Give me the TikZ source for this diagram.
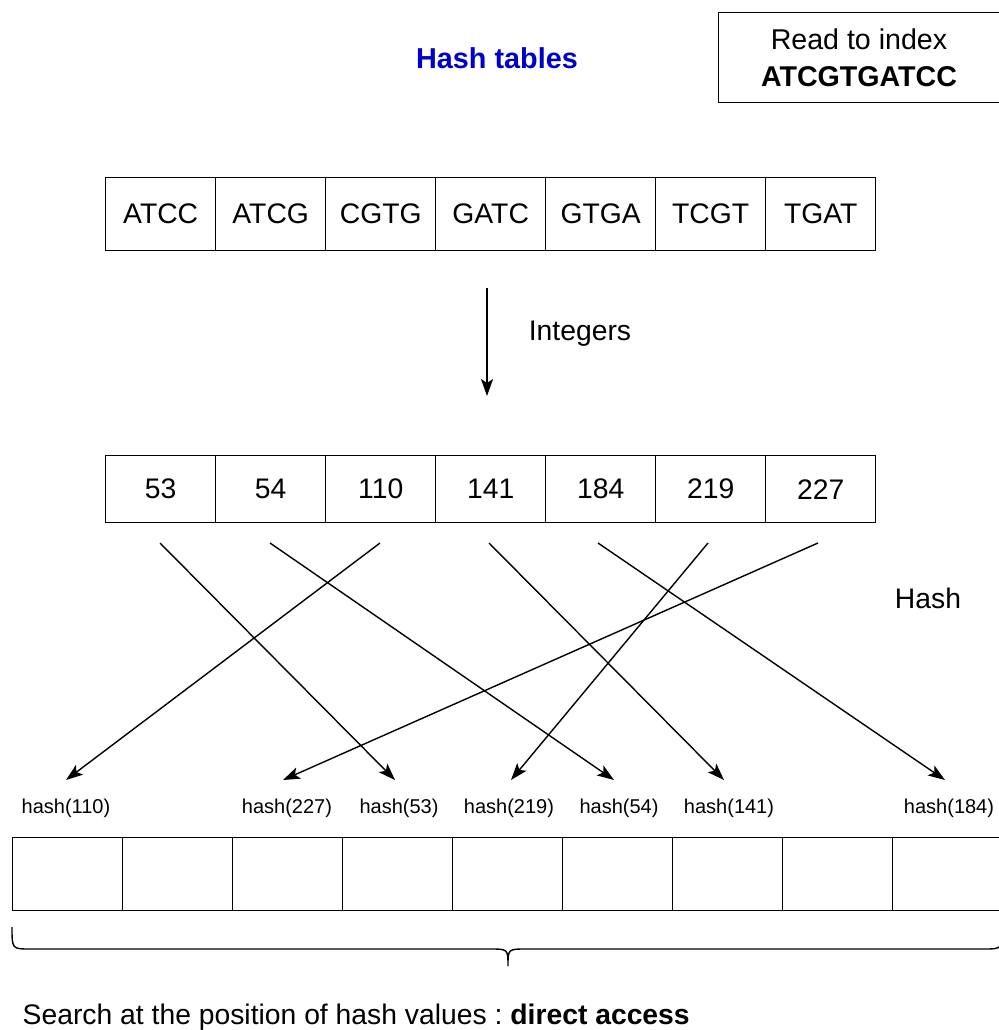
\documentclass[tikz,border=0pt]{standalone}
\usepackage{fontspec}
\setmainfont{Liberation Sans}
\usetikzlibrary{arrows.meta}
\definecolor{titleblue}{RGB}{0,0,204}
\begin{document}
\begin{tikzpicture}[x=1pt,y=-1pt,
  line width=1.4pt,
  cell/.style={draw, line width=1.4pt, minimum width=110pt, inner sep=0pt,
    anchor=north west, font=\fontsize{28.3}{32}\selectfont},
  kcell/.style={cell, minimum height=73pt},
  icell/.style={cell, minimum height=67pt},
  tcell/.style={cell, minimum height=73pt},
  hlabel/.style={inner sep=0pt, font=\fontsize{20}{23}\selectfont},
  txt/.style={inner sep=0pt, font=\fontsize{28.3}{32}\selectfont},
  hasharrow/.style={-{Stealth[length=17pt,width=12pt,inset=4pt]}, line width=1.4pt}]
\useasboundingbox (0,0) rectangle (998,1030);

% title and input read
\node[txt, font=\fontsize{28.8}{32}\bfseries, text=titleblue] (title) at (497,58) {Hash tables};
\node[draw, line width=1.4pt, anchor=north west, minimum width=290pt, minimum height=90pt, inner sep=0pt] (readbox) at (718,12) {};
\node[txt, align=center, font=\fontsize{28.6}{37}\selectfont] (readtxt) at (859,58) {Read to index\\\textbf{ATCGTGATCC}};

% k-mers
\foreach \k [count=\i from 0] in {ATCC,ATCG,CGTG,GATC,GTGA,TCGT,TGAT}
  \node[kcell] (k\i) at (105+110*\i,177) {\k};

% integers
\foreach \v [count=\i from 0] in {53,54,110,141,184,219,227}
  \node[icell] (n\v) at (105+110*\i,455) {\v};

% k-mer -> integer conversion
\coordinate (convtop) at (487,288);
\coordinate (convbot) at (487,396);
\draw[-{Stealth[length=17pt,width=12pt,inset=4pt]}] (convtop) -- (convbot);
\node[txt] (intlabel) at (580,334) {Integers};
\node[txt] (hashlabel) at (928,598) {Hash};

% hash table slots
\foreach \i in {0,...,8}
  \node[tcell] (t\i) at (12+110*\i,837) {};

% hash value labels
\node[hlabel] (h110) at (66,808) {hash(110)};
\node[hlabel] (h227) at (287,808) {hash(227)};
\node[hlabel] (h53)  at (399,808) {hash(53)};
\node[hlabel] (h219) at (509,808) {hash(219)};
\node[hlabel] (h54)  at (619,808) {hash(54)};
\node[hlabel] (h141) at (729,808) {hash(141)};
\node[hlabel] (h184) at (949,808) {hash(184)};

% arrow start points below the integers, end points above the labels
\foreach \v/\x in {53/160,54/270,110/380,141/489,184/598,219/708,227/818}
  \coordinate (s\v) at (\x,543);
\foreach \v/\x in {110/66,227/283,53/395,219/511,54/614,141/724,184/945}
  \coordinate (e\v) at (\x,780);
\foreach \v in {53,54,110,141,184,219,227}
  \draw[hasharrow] (s\v) -- (e\v);

% brace under the table
\draw[line width=1.4pt] (12,927) .. controls (12,949) .. (30,949) -- (490,949)
  .. controls (508,949) .. (508,966) .. controls (508,949) .. (526,949)
  -- (984,949) .. controls (1002,949) .. (1002,927);

\node[txt, anchor=west] (search) at (22,1017) {Search at the position of hash values :~\textbf{direct access}};
\end{tikzpicture}
\end{document}
